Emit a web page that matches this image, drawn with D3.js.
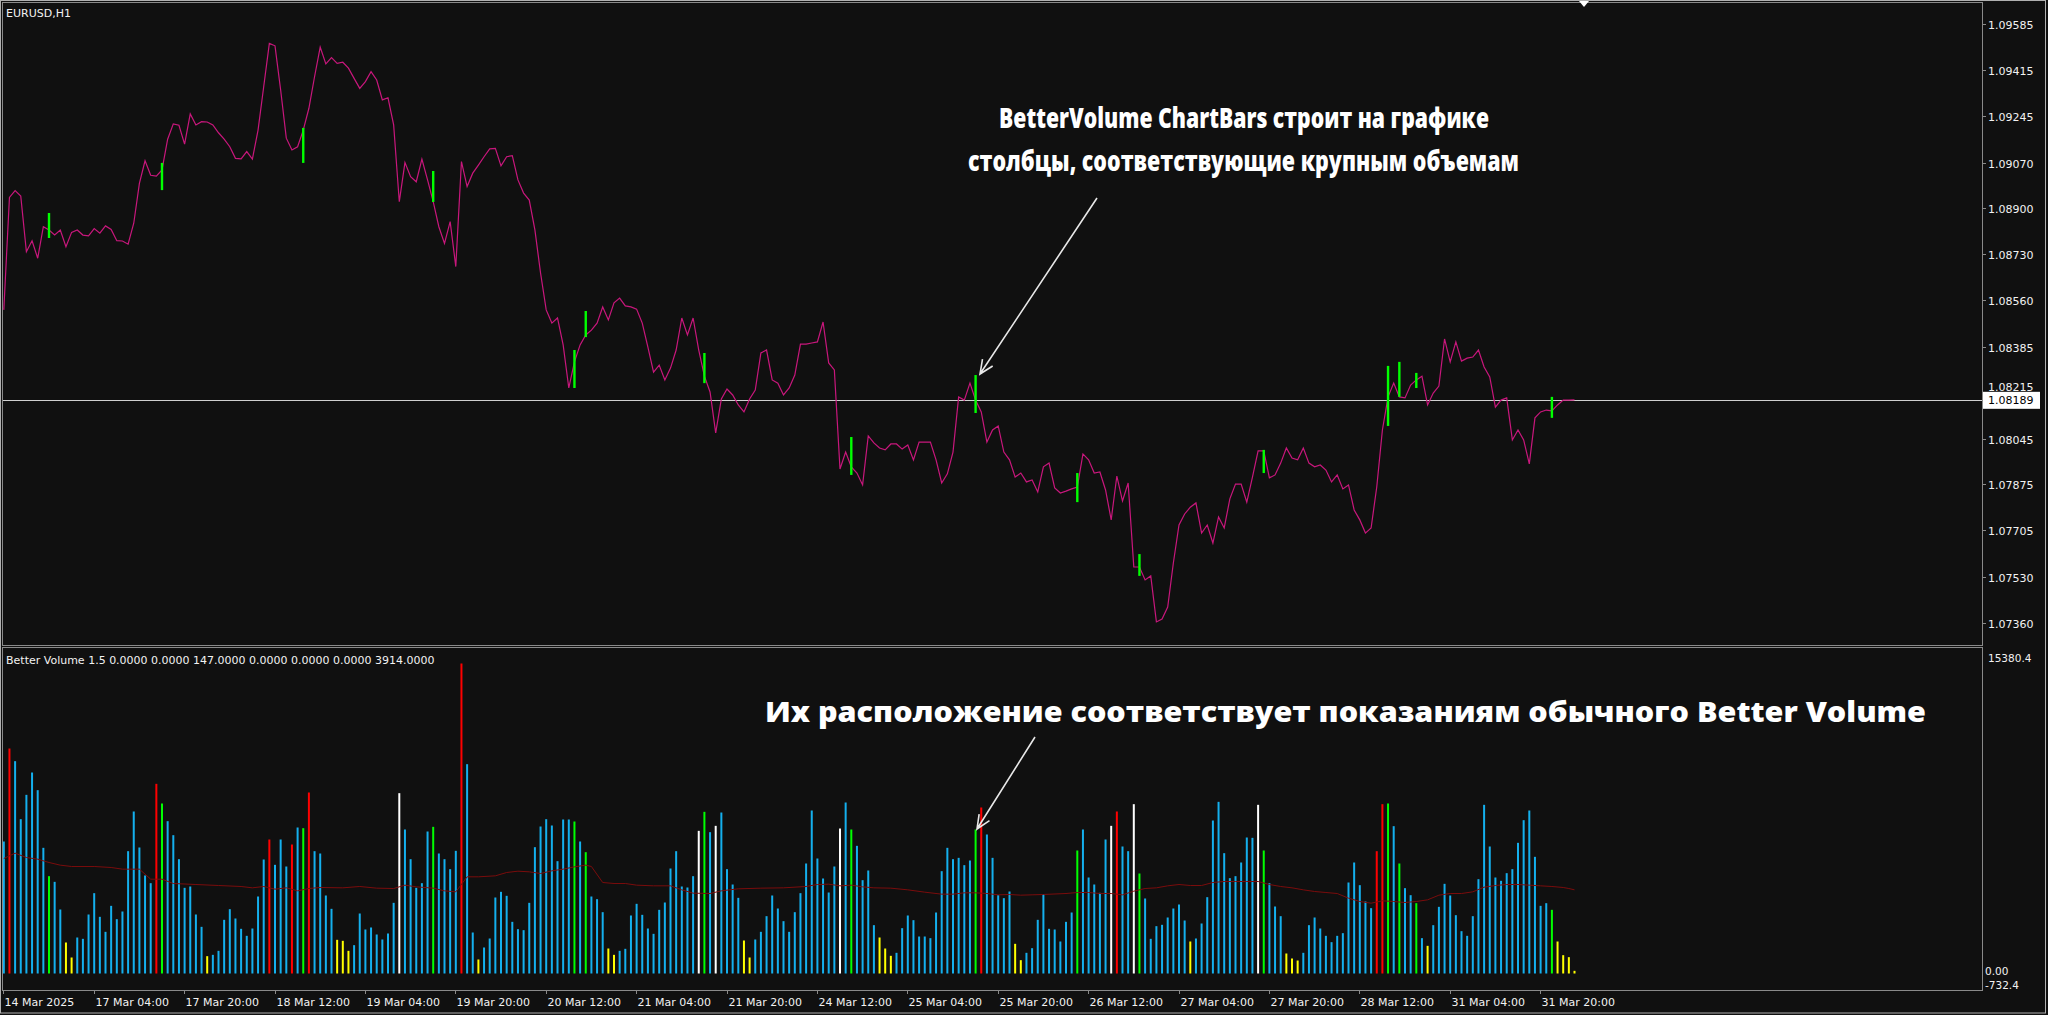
<!DOCTYPE html>
<html><head><meta charset="utf-8">
<script src="https://cdn.jsdelivr.net/npm/d3@7"></script>
<style>body{margin:0;background:#101010;overflow:hidden}svg{display:block}</style>
</head><body><svg id="c" width="2048" height="1015"></svg>
<script>
// ---------- DATA ----------
const symbolLabel = "EURUSD,H1";
const volumeLabel = "Better Volume 1.5 0.0000 0.0000 147.0000 0.0000 0.0000 0.0000 3914.0000";
const closes = [
1.08523,1.08941,1.08966,1.08946,1.08739,1.08780,1.08715,1.08832,1.08820,1.08801,
1.08820,1.08758,1.08811,1.08820,1.08801,1.08798,1.08825,1.08808,1.08835,1.08822,
1.08780,1.08779,1.08767,1.08845,1.08993,1.09077,1.09023,1.09020,1.09043,1.09157,
1.09214,1.09209,1.09139,1.09251,1.09210,1.09222,1.09221,1.09210,1.09181,1.09157,
1.09129,1.09086,1.09084,1.09111,1.09083,1.09191,1.09352,1.09513,1.09504,1.09340,
1.09161,1.09117,1.09129,1.09191,1.09272,1.09389,1.09499,1.09437,1.09460,1.09439,
1.09443,1.09421,1.09383,1.09346,1.09371,1.09408,1.09377,1.09303,1.09311,1.09210,
1.08925,1.09070,1.09018,1.08999,1.09083,1.09006,1.08925,1.08832,1.08770,1.08851,
1.08684,1.09074,1.08981,1.09031,1.09061,1.09092,1.09121,1.09123,1.09058,1.09092,
1.09096,1.09006,1.08957,1.08931,1.08820,1.08660,1.08523,1.08474,1.08493,1.08393,
1.08233,1.08330,1.08393,1.08430,1.08448,1.08474,1.08534,1.08486,1.08549,1.08567,
1.08538,1.08534,1.08526,1.08474,1.08385,1.08292,1.08318,1.08263,1.08307,1.08374,
1.08493,1.08430,1.08493,1.08374,1.08277,1.08218,1.08066,1.08192,1.08229,1.08207,
1.08170,1.08144,1.08192,1.08225,1.08363,1.08374,1.08263,1.08251,1.08207,1.08233,
1.08281,1.08396,1.08396,1.08400,1.08404,1.08478,1.08326,1.08300,1.07932,1.07995,
1.07940,1.07917,1.07873,1.08055,1.08029,1.08010,1.08003,1.08025,1.08025,1.08006,
1.08021,1.07966,1.08032,1.08032,1.08032,1.07966,1.07880,1.07914,1.07995,1.08200,
1.08188,1.08251,1.08188,1.08144,1.08032,1.08077,1.08092,1.07995,1.07966,1.07902,
1.07917,1.07884,1.07891,1.07847,1.07940,1.07954,1.07862,1.07843,1.07850,1.07858,
1.07865,1.07988,1.07966,1.07917,1.07921,1.07854,1.07743,1.07906,1.07813,1.07880,
1.07568,1.07568,1.07520,1.07535,1.07364,1.07375,1.07419,1.07583,1.07724,1.07765,
1.07790,1.07806,1.07694,1.07724,1.07657,1.07754,1.07713,1.07821,1.07876,1.07876,
1.07809,1.07902,1.07999,1.07999,1.07899,1.07910,1.07954,1.08010,1.07973,1.07966,
1.08010,1.07954,1.07940,1.07947,1.07928,1.07884,1.07910,1.07858,1.07873,1.07780,
1.07743,1.07694,1.07713,1.07865,1.08077,1.08200,1.08251,1.08200,1.08196,1.08244,
1.08263,1.08277,1.08170,1.08214,1.08240,1.08415,1.08330,1.08404,1.08333,1.08344,
1.08348,1.08374,1.08311,1.08274,1.08162,1.08188,1.08196,1.08040,1.08077,1.08040,
1.07951,1.08122,1.08144,1.08151,1.08148,1.08170,1.08188,1.08188,1.08189];
const volumes = [
6237,10631,10033,7292,8442,9497,8663,5938,4599,4331,
3024,1465,756,1701,1638,2788,3796,2678,1969,3197,
2567,2930,5780,7655,5954,4631,4268,8962,8033,7198,
6536,5402,4048,4111,2788,2205,819,882,1071,2536,
3040,2599,2111,1780,2126,3638,5387,6332,5135,6332,
5056,6095,6899,6867,8552,5780,5670,3686,3056,1591,
1544,1071,1339,2835,2079,2174,1843,1607,1890,3339,
8521,6804,5402,4048,4268,6710,6930,5670,5402,4930,
5796,14648,9891,1937,662,1229,1654,3591,3859,3670,
2441,2095,2048,3339,5969,6946,7292,6993,5308,7277,
7277,7182,6237,5733,3638,3512,2898,1181,882,1071,
1166,2741,3292,2772,2126,1874,3008,3355,4961,5780,
4111,4064,4599,6741,7639,6678,6977,7607,4930,4205,
3575,1559,756,1607,1969,2709,3686,3071,2473,1969,
2898,3796,5198,7702,5434,4489,3827,5056,6851,8080,
6804,6032,4410,4867,2284,1701,1181,835,977,2142,
2741,2520,1748,1748,1670,2882,4835,5938,5402,5465,
5119,5339,6804,7844,6568,5465,3701,3560,3875,1402,
630,977,1197,2536,3749,2111,2079,1512,2441,2882,
5812,6804,4536,4205,3812,6332,6977,7655,6001,5780,
8001,4725,3544,1638,2237,2300,2646,3071,3260,2504,
1512,1654,2363,3607,7229,8111,5686,4505,4599,5245,
6426,6410,7970,5812,4268,3166,2709,945,709,614,
977,2284,2646,2126,1780,1481,1780,1906,4300,5245,
4174,3402,3087,5780,8001,8033,6962,5198,4032,3701,
3323,1670,1307,2284,3150,4237,3686,2756,2000,1780,
2709,4457,7970,6001,4536,4379,4741,4930,6174,7245,
7702,5513,3197,3323,3008,1512,866,772,126];
// Better Volume bar categories (bar indices); all others are normal (blue)
const climaxIdx = [1,27,47,51,54,81,173,197,243,244];
const churnIdx  = [8,28,53,76,101,103,124,150,172,190,201,223,245,247,250,274];
const climaxChurnIdx = [70,123,126,148,196,200,222];
const lowVolIdx = [11,12,36,59,60,61,84,107,108,131,132,155,156,157,179,180,210,227,228,229,252,275,276,277,278];
// ChartBars on price chart (high / low of the churn bars)
const chartBarIdx  = [8,28,53,76,101,103,124,150,172,190,201,223,245,247,250,274];
const chartBarHigh = [1.08883,1.09069,1.09199,1.09039,1.08374,1.08519,1.08363,1.08051,1.08281,1.07917,1.07616,1.08003,1.08315,1.08330,1.08289,1.08200];
const chartBarLow  = [1.08790,1.08968,1.09069,1.08924,1.08233,1.08422,1.08251,1.07910,1.08140,1.07809,1.07535,1.07917,1.08092,1.08200,1.08233,1.08122];
// volume average line (readings at bar indices)
const maIdx = [0,2,4,6,8,10,12,16,19,21,24,26,28,30,34,38,42,44,46,48,50,52,54,56,60,63,66,69,71,73,76,78,80,82,84,87,89,91,93,95,97,99,101,103,104,106,108,110,112,115,118,120,122,125,127,130,134,138,142,144,146,148,150,152,154,157,160,163,166,168,170,172,174,176,178,180,182,184,188,190,192,194,196,198,200,202,204,206,208,210,212,214,216,218,220,222,224,226,228,230,232,234,236,238,240,242,244,246,248,250,252,254,256,258,260,262,264,266,268,270,272,274,276,277,278];
const maVal = [5434,5686,5481,5402,5245,5119,5056,5056,5009,4930,4930,4457,4457,4253,4205,4158,4111,4048,4111,3985,4048,3906,4016,4064,4048,4111,4032,4016,4174,4095,4032,3906,3859,4568,4568,4615,4772,4835,4804,4725,4851,4930,5040,5119,5056,4300,4253,4253,4174,4142,4142,3953,3796,3780,3906,4001,4032,4048,4111,4205,4221,4142,4174,4095,4048,4032,3953,3843,3749,3749,3812,3812,3780,3717,3733,3701,3717,3733,3780,3827,3827,3780,3780,3717,3890,4016,4048,4142,4205,4158,4158,4300,4347,4347,4347,4347,4205,4111,4048,3953,3875,3827,3780,3560,3402,3323,3434,3402,3355,3402,3481,3701,3780,3780,3859,4079,4158,4205,4205,4174,4142,4111,4064,4016,3953];
const priceTicks = [1.09585,1.09415,1.09245,1.09070,1.08900,1.08730,1.08560,1.08385,1.08215,1.08045,1.07875,1.07705,1.07530,1.07360];
const currentPrice = 1.08189;
const volTickLabels = ["15380.4","0.00","-732.4"];
const volTickValues = [15380.4,0,-732.4];
const dateLabels = ["14 Mar 2025","17 Mar 04:00","17 Mar 20:00","18 Mar 12:00","19 Mar 04:00","19 Mar 20:00","20 Mar 12:00","21 Mar 04:00","21 Mar 20:00","24 Mar 12:00","25 Mar 04:00","25 Mar 20:00","26 Mar 12:00","27 Mar 04:00","27 Mar 20:00","28 Mar 12:00","31 Mar 04:00","31 Mar 20:00"];
const dateLabelIdx = [0,16,32,48,64,80,96,112,128,144,160,176,192,208,224,240,256,272];
const note1 = ["BetterVolume ChartBars строит на графике","столбцы, соответствующие крупным объемам"];
const note2 = "Их расположение соответствует показаниям обычного Better Volume";

// ---------- LAYOUT ----------
const W = 2048, H = 1015;
const L = 3, R = 1982;
const pTop = 3, pBot = 645, vTop = 648, vBot = 990;
const svg = d3.select("#c");
const BG = "#101010", FRAME = "#8a8a8a", TXT = "#f2f2f2";
const axisFont = "'DejaVu Sans', Tahoma, sans-serif";

svg.append("rect").attr("width", W).attr("height", H).attr("fill", BG);

const x = d3.scaleLinear().domain([0, 350]).range([3.3, 3.3 + 350 * 5.65]);
const yP = d3.scaleLinear().domain([1.07360, 1.09585]).range([623, 24]);
const yV = d3.scaleLinear().domain([-732.4, 15380.4]).range([989, 648]);

const defs = svg.append("defs");
defs.append("clipPath").attr("id", "cp").append("rect").attr("x", L).attr("y", pTop).attr("width", R - L).attr("height", pBot - pTop);
defs.append("clipPath").attr("id", "cv").append("rect").attr("x", L).attr("y", vTop).attr("width", R - L).attr("height", vBot - vTop);

// frames
svg.append("rect").attr("x", 0.5).attr("y", 0.5).attr("width", W - 3).attr("height", H - 2.5).attr("fill", "none").attr("stroke", "#b0b0b0");
svg.append("rect").attr("x", L - 0.5).attr("y", pTop - 0.5).attr("width", R - L + 1).attr("height", pBot - pTop + 1).attr("fill", "none").attr("stroke", FRAME);
svg.append("rect").attr("x", L - 0.5).attr("y", vTop - 0.5).attr("width", R - L + 1).attr("height", vBot - vTop + 1).attr("fill", "none").attr("stroke", FRAME);

// ---------- PRICE PANEL ----------
const gp = svg.append("g").attr("clip-path", "url(#cp)");
gp.append("line").attr("x1", L).attr("x2", R).attr("y1", Math.round(yP(currentPrice)) + 0.5).attr("y2", Math.round(yP(currentPrice)) + 0.5)
  .attr("stroke", "#d0d0d0").attr("stroke-width", 1);
gp.append("path").datum(closes)
  .attr("d", d3.line().x((d, i) => x(i) + 0.5).y(d => yP(d)))
  .attr("fill", "none").attr("stroke", "#c8177c").attr("stroke-width", 1.2);
gp.selectAll("line.cb").data(chartBarIdx).join("line").attr("class", "cb")
  .attr("x1", d => x(d) + 0.5).attr("x2", d => x(d) + 0.5)
  .attr("y1", (d, k) => yP(chartBarHigh[k])).attr("y2", (d, k) => yP(chartBarLow[k]))
  .attr("stroke", "#00ff00").attr("stroke-width", 2.4);

svg.append("text").attr("x", 6).attr("y", 17).text(symbolLabel)
  .attr("font-family", axisFont).attr("font-size", 11).attr("fill", TXT);

// price axis
const pa = svg.append("g");
const cy = yP(currentPrice);
priceTicks.forEach(t => {
  const yy = Math.round(yP(t)) + 0.5;
  pa.append("line").attr("x1", R).attr("x2", R + 4).attr("y1", yy).attr("y2", yy).attr("stroke", FRAME);
  // the label nearest the current-price box sits just above it
  const ty = Math.abs(yy - cy) < 12 ? cy - 9 : yy + 4;
  pa.append("text").attr("x", 1988).attr("y", ty).text(d3.format(".5f")(t))
    .attr("font-family", axisFont).attr("font-size", 11).attr("fill", TXT);
});
pa.append("rect").attr("x", 1983).attr("y", cy - 8).attr("width", 57).attr("height", 17).attr("fill", "#ffffff");
pa.append("text").attr("x", 1988).attr("y", cy + 4.5).text(d3.format(".5f")(currentPrice))
  .attr("font-family", axisFont).attr("font-size", 11).attr("fill", "#000");

// top shift marker
svg.append("path").attr("d", "M1579,1 L1589,1 L1584,7 Z").attr("fill", "#ffffff");

// ---------- VOLUME PANEL ----------
const typeOf = i => climaxIdx.includes(i) ? "#ff0000" : churnIdx.includes(i) ? "#00ff00" :
  climaxChurnIdx.includes(i) ? "#ffffff" : lowVolIdx.includes(i) ? "#ffff00" : "#14b0ee";
const gv = svg.append("g").attr("clip-path", "url(#cv)");
gv.selectAll("rect.vb").data(volumes).join("rect").attr("class", "vb")
  .attr("x", (d, i) => x(i) - 0.5).attr("width", 2)
  .attr("y", d => yV(d)).attr("height", d => yV(0) - yV(d))
  .attr("fill", (d, i) => typeOf(i));
gv.append("path").datum(maIdx.map((d, k) => [d, maVal[k]]))
  .attr("d", d3.line().x(d => x(d[0]) + 0.5).y(d => yV(d[1])))
  .attr("fill", "none").attr("stroke", "#7a0c0c").attr("stroke-width", 1);

svg.append("text").attr("x", 6).attr("y", 664).text(volumeLabel)
  .attr("font-family", axisFont).attr("font-size", 11).attr("fill", TXT);

// volume axis
const volLabelY = [662, 975, 989];
volTickValues.forEach((t, k) => {
  svg.append("text").attr("x", k === 0 ? 1988 : 1985).attr("y", volLabelY[k]).text(volTickLabels[k])
    .attr("font-family", axisFont).attr("font-size", 10.5).attr("fill", TXT);
});

// date axis
dateLabelIdx.forEach((idx, k) => {
  const xx = Math.round(x(idx)) + 0.5;
  svg.append("line").attr("x1", xx).attr("x2", xx).attr("y1", vBot).attr("y2", vBot + 4).attr("stroke", FRAME);
  svg.append("text").attr("x", xx + 1).attr("y", 1006).text(dateLabels[k])
    .attr("font-family", axisFont).attr("font-size", 11).attr("fill", TXT);
});

// ---------- ANNOTATIONS ----------
const noteFont = "'Open Sans', 'Noto Sans', sans-serif";
svg.append("text").attr("x", 999).attr("y", 128).text(note1[0])
  .attr("font-family", noteFont).attr("font-weight", 800).attr("font-size", 28).attr("fill", "#fff")
  .attr("textLength", 490).attr("lengthAdjust", "spacingAndGlyphs");
svg.append("text").attr("x", 968).attr("y", 171).text(note1[1])
  .attr("font-family", noteFont).attr("font-weight", 800).attr("font-size", 28).attr("fill", "#fff")
  .attr("textLength", 551).attr("lengthAdjust", "spacingAndGlyphs");
svg.append("text").attr("x", 765).attr("y", 722).text(note2)
  .attr("font-family", noteFont).attr("font-weight", 800).attr("font-size", 29).attr("fill", "#fff")
  .attr("textLength", 1161).attr("lengthAdjust", "spacingAndGlyphs");

function arrow(x1, y1, x2, y2) {
  const a = Math.atan2(y2 - y1, x2 - x1), len = 15, sp = 0.42;
  const p = `M${x1},${y1}L${x2},${y2}M${x2 - len * Math.cos(a - sp)},${y2 - len * Math.sin(a - sp)}L${x2},${y2}L${x2 - len * Math.cos(a + sp)},${y2 - len * Math.sin(a + sp)}`;
  svg.append("path").attr("d", p).attr("fill", "none").attr("stroke", "#e8e8e8").attr("stroke-width", 1.6);
}
arrow(1097, 198, 980, 374);
arrow(1035, 737, 977, 829);
</script></body></html>
